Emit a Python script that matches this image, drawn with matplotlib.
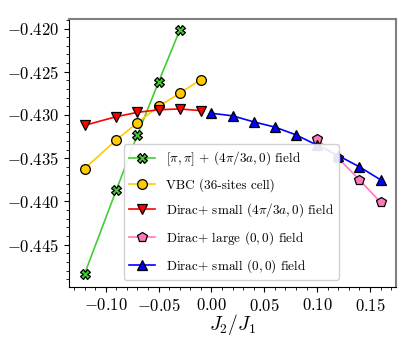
import matplotlib
matplotlib.use("Agg")
import matplotlib.pyplot as plt

plt.rcParams["font.family"] = "serif"
plt.rcParams["font.serif"] = ["cmr10"]
plt.rcParams["mathtext.fontset"] = "cm"
plt.rcParams["axes.formatter.use_mathtext"] = True

# data
x_pipi = [-0.12, -0.09, -0.07, -0.05, -0.03]
y_pipi = [-0.4484, -0.4387, -0.4323, -0.4262, -0.4202]

x_vbc = [-0.12, -0.09, -0.07, -0.05, -0.03, -0.01]
y_vbc = [-0.4362, -0.4329, -0.4309, -0.4290, -0.4275, -0.4259]

x_dirac_k = [-0.12, -0.09, -0.07, -0.05, -0.03, -0.01]
y_dirac_k = [-0.4312, -0.4302, -0.4297, -0.4294, -0.4293, -0.4295]

x_dirac_large = [0.10, 0.12, 0.14, 0.16]
y_dirac_large = [-0.4328, -0.4350, -0.4375, -0.4401]

x_dirac_small = [0.00, 0.02, 0.04, 0.06, 0.08, 0.10, 0.12, 0.14, 0.16]
y_dirac_small = [-0.4298, -0.4301, -0.4308, -0.4314, -0.4323, -0.4335, -0.4347, -0.4360, -0.4375]

fig = plt.figure(figsize=(4.15, 3.46), dpi=100)
ax = fig.add_axes([69 / 415, 59 / 346, 327 / 415, 268 / 346])

kw = dict(markeredgecolor="black", markeredgewidth=0.9, linewidth=1.2, markersize=7)
ax.plot(x_pipi, y_pipi, color="#44cc33", marker="X", markerfacecolor="#44cc33",
        label=r"$[\pi,\pi]$ + $(4\pi/3a,0)$ field", **kw)
ax.plot(x_vbc, y_vbc, color="#ffcc00", marker="o", markerfacecolor="#ffcc00",
        label="VBC (36-sites cell)", **kw)
ax.plot(x_dirac_k, y_dirac_k, color="red", marker="v", markerfacecolor="red",
        label=r"Dirac$+$ small $(4\pi/3a,0)$ field", **kw)
ax.plot(x_dirac_large, y_dirac_large, color="#ff77bb", marker="p", markerfacecolor="#ff77bb",
        label=r"Dirac$+$ large $(0,0)$ field", **kw)
ax.plot(x_dirac_small, y_dirac_small, color="blue", marker="^", markerfacecolor="blue",
        label=r"Dirac$+$ small $(0,0)$ field", **kw)

ax.set_xlim(-0.1347, 0.1746)
ax.set_ylim(-0.4499, -0.4189)
ax.set_xticks([-0.10, -0.05, 0.00, 0.05, 0.10, 0.15])
ax.set_yticks([-0.420, -0.425, -0.430, -0.435, -0.440, -0.445])
ax.set_xticklabels(["$-0.10$", "$-0.05$", "$0.00$", "$0.05$", "$0.10$", "$0.15$"])
ax.set_yticklabels(["$-0.420$", "$-0.425$", "$-0.430$", "$-0.435$", "$-0.440$", "$-0.445$"])
ax.minorticks_on()
ax.tick_params(labelsize=12)
ax.set_xlabel(r"$J_2/J_1$", fontsize=14, labelpad=-1)

for s in ["top", "right"]:
    ax.spines[s].set_color("gray")
    ax.spines[s].set_linewidth(1.5)

ax.legend(loc="lower right", bbox_to_anchor=(0.826, 0.026), borderaxespad=0,
          fontsize=9.5, handlelength=2.0, labelspacing=0.75, framealpha=0.9)

fig.savefig("out.png", dpi=100)
